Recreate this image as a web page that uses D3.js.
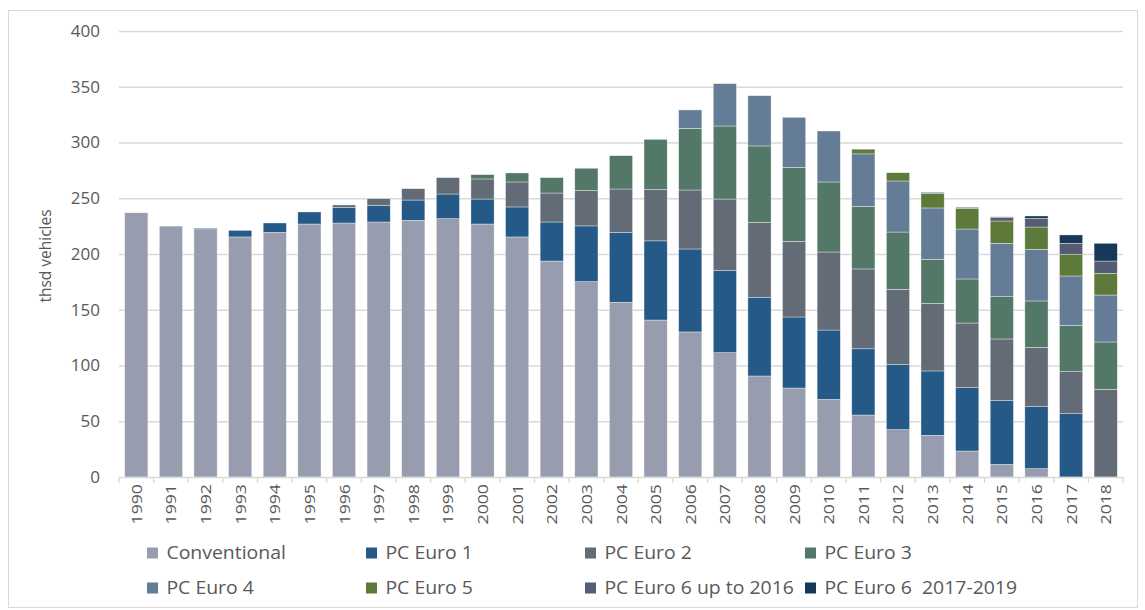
<!DOCTYPE html>
<html>
<head>
<meta charset="utf-8">
<script src="https://cdn.jsdelivr.net/npm/d3@7"></script>
<style>
    body { margin: 0; background: #fff; }
    text { font-family: "Open Sans", sans-serif; fill: #595959; }
</style>
</head>
<body>
<div id="chart"></div>
<script>
// Passenger car fleet by emission standard, thousand vehicles

const years = d3.range(1990, 2019).map(String);

const conventional = [237, 225, 221.8, 215.3, 219.4, 226.9, 227.8, 228.7, 230.2, 231.7, 226.9, 215.3, 193.7, 175.2, 156.7, 140.8, 130.1, 111.5, 90.6, 79.8, 69.6, 55.6, 42.5, 37.4, 23.3, 11.3, 7.5, 0, 0];
const euro1 = [0, 0, 1.2, 5.9, 8.4, 10.8, 14.1, 15, 18.2, 22.1, 22.4, 26.9, 35, 50, 62.7, 71, 74.4, 73.6, 70.6, 63.7, 62.2, 59.4, 58.3, 57.7, 56.8, 57.2, 55.6, 56.8, 0];
const euro2 = [0, 0, 0, 0, 0, 0, 2.1, 5.9, 10.2, 14.7, 18, 22.4, 26, 31.7, 38.9, 46, 52.9, 64.2, 67.2, 67.9, 70, 71.6, 67.5, 60.7, 58, 55.3, 53.2, 37.7, 78.6];
const euro3 = [0, 0, 0, 0, 0, 0, 0, 0, 0, 0, 3.9, 8.1, 13.8, 20, 29.9, 45, 55.3, 65.5, 68.5, 66.3, 62.8, 56, 51.4, 39.4, 39.5, 37.9, 41.6, 41.5, 42.5];
const euro4 = [0, 0, 0, 0, 0, 0, 0, 0, 0, 0, 0, 0, 0, 0, 0, 0, 16.5, 38, 45.1, 44.9, 45.7, 47.2, 45.8, 46.1, 44.8, 47.9, 46.3, 44.3, 42.1];
const euro5 = [0, 0, 0, 0, 0, 0, 0, 0, 0, 0, 0, 0, 0, 0, 0, 0, 0, 0, 0, 0, 0, 4.2, 7.4, 13.1, 18.6, 20, 20, 19.1, 19.5];
const euro6a = [0, 0, 0, 0, 0, 0, 0, 0, 0, 0, 0, 0, 0, 0, 0, 0, 0, 0, 0, 0, 0, 0, 0, 0.9, 0.9, 3.3, 7.8, 10.2, 11];
const euro6b = [0, 0, 0, 0, 0, 0, 0, 0, 0, 0, 0, 0, 0, 0, 0, 0, 0, 0, 0, 0, 0, 0, 0, 0, 0, 0.4, 2.1, 7.5, 15.9];

const seriesNames = ["Conventional", "PC Euro 1", "PC Euro 2", "PC Euro 3", "PC Euro 4", "PC Euro 5", "PC Euro 6 up to 2016", "PC Euro 6  2017-2019"];
const seriesValues = [conventional, euro1, euro2, euro3, euro4, euro5, euro6a, euro6b];
const seriesColors = ["#979dae", "#255a88", "#636c76", "#547868", "#647c95", "#5e7a3b", "#565c74", "#18385a"];

const yTicks = [0, 50, 100, 150, 200, 250, 300, 350, 400];

// ---------- setup ----------

const width = 1145;
const height = 610;
const margin = { top: 31, right: 22, bottom: 133, left: 119 };

const svg = d3.select("#chart")
    .append("svg")
    .attr("width", width)
    .attr("height", height);

// outer frame
svg.append("rect")
    .attr("x", 8.5)
    .attr("y", 10.5)
    .attr("width", 1129)
    .attr("height", 597)
    .attr("fill", "none")
    .attr("stroke", "#d9d9d9");

const x = d3.scaleBand()
    .domain(years)
    .range([margin.left, width - margin.right])
    .paddingInner(0.33)
    .paddingOuter(0.165);

const y = d3.scaleLinear()
    .domain([0, 400])
    .range([height - margin.bottom, margin.top]);

// gridlines
svg.append("g")
    .selectAll("line")
    .data(yTicks.filter(d => d > 0))
    .join("line")
    .attr("x1", margin.left)
    .attr("x2", width - margin.right)
    .attr("y1", d => y(d) + 0.5)
    .attr("y2", d => y(d) + 0.5)
    .attr("stroke", "#d9d9d9")
    .attr("stroke-width", 1.3);

// y axis labels
const yAxis = d3.axisLeft(y).tickValues(yTicks).tickSize(0).tickPadding(19);
svg.append("g")
    .attr("transform", `translate(${margin.left}, 0)`)
    .call(yAxis)
    .call(g => g.select(".domain").remove())
    .selectAll("text")
    .attr("font-size", 17)
    .style("font-family", "Open Sans, sans-serif")
    .style("fill", "#595959");

// y title
svg.append("text")
    .attr("transform", `translate(51, ${y(200) + 2}) rotate(-90)`)
    .attr("text-anchor", "middle")
    .attr("font-size", 15.5)
    .text("thsd vehicles");

// ---------- stacked bars ----------

const rows = years.map((yr, i) => {
    const row = { year: yr };
    seriesNames.forEach((name, s) => { row[name] = seriesValues[s][i]; });
    return row;
});

const stacked = d3.stack().keys(seriesNames)(rows);

svg.append("g")
    .selectAll("g")
    .data(stacked)
    .join("g")
    .attr("fill", (d, i) => seriesColors[i])
    .selectAll("rect")
    .data(d => d.filter(p => p[1] - p[0] > 0))
    .join("rect")
    .attr("x", d => x(d.data.year))
    .attr("width", x.bandwidth())
    .attr("y", d => y(d[1]))
    .attr("height", d => y(d[0]) - y(d[1]))
    .attr("stroke", "#ffffff")
    .attr("stroke-opacity", 0.6)
    .attr("stroke-width", 0.6);

// ---------- x axis ----------

const baseY = y(0);
const step = x.step();
const gap = step * x.paddingInner() / 2;

svg.append("line")
    .attr("x1", margin.left)
    .attr("x2", width - margin.right)
    .attr("y1", baseY + 0.5)
    .attr("y2", baseY + 0.5)
    .attr("stroke", "#d9d9d9")
    .attr("stroke-width", 1.3);

const boundaries = years.map(d => x(d) - gap).concat([x(years[years.length - 1]) + x.bandwidth() + gap]);

svg.append("g")
    .selectAll("line")
    .data(boundaries)
    .join("line")
    .attr("x1", d => d)
    .attr("x2", d => d)
    .attr("y1", baseY)
    .attr("y2", baseY + 6)
    .attr("stroke", "#d9d9d9")
    .attr("stroke-width", 1.3);

// the original labels look stretched along the reading direction
svg.append("g")
    .selectAll("text")
    .data(years)
    .join("text")
    .attr("transform", d => `translate(${x(d) + x.bandwidth() / 2 + 5.5}, ${baseY + 7}) rotate(-90) scale(1.18, 1)`)
    .attr("text-anchor", "end")
    .attr("font-size", 15)
    .text(d => d);

// ---------- legend ----------

const legendCols = [147, 366, 585, 805];
const legendRows = [553, 588];

const legend = svg.append("g")
    .selectAll("g")
    .data(seriesNames)
    .join("g")
    .attr("transform", (d, i) => `translate(${legendCols[i % 4]}, ${legendRows[Math.floor(i / 4)]})`);

legend.append("rect")
    .attr("x", 0)
    .attr("y", -5.5)
    .attr("width", 11)
    .attr("height", 11)
    .attr("fill", (d, i) => seriesColors[i]);

legend.append("text")
    .attr("x", 18)
    .attr("y", 0)
    .attr("dy", "0.35em")
    .attr("font-size", 18)
    .attr("transform", "scale(1.08, 1)")
    .style("white-space", "pre")
    .text(d => d);
</script>
</body>
</html>
